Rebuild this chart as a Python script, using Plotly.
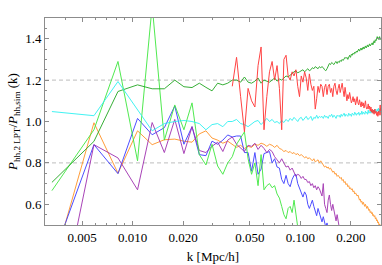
import math
import plotly.graph_objects as go

# k grid (mode-averaged first bins, then linear bins of width KF)
K_FIRST = [0.00331, 0.00589, 0.00819, 0.01071]
KF = 0.00238
K = K_FIRST + [round((n + 0.5) * KF, 5) for n in range(5, 127)]

CYAN = [1.048, 1.028, 1.193, 1.06, 0.955, 0.99, 1.0, 1.005, 1.0, 0.99, 0.96, 0.985, 0.99, 0.975, 1.0,
        1.00, 1.01, 0.99, 0.985, 0.975, 0.99, 1.00, 1.005, 0.985, 1.00, 1.015, 1.00, 1.01, 0.995, 1.00,
        0.99, 1.005, 0.995, 1.01, 1.00, 1.015, 1.005, 1.02, 1.01, 1.00,
        1.015, 1.02, 1.005, 1.015, 1.025, 1.01, 1.015, 1.025, 1.005, 1.02, 1.015, 1.03, 1.015, 1.025, 1.02,
        1.025, 1.015, 1.03, 1.02, 1.025, 1.015, 1.03, 1.025, 1.035, 1.02, 1.03, 1.025, 1.015, 1.03, 1.025,
        1.03, 1.02, 1.035, 1.025, 1.03, 1.04, 1.025, 1.035, 1.03, 1.025, 1.04, 1.03, 1.035, 1.025, 1.04,
        1.035, 1.03, 1.045, 1.035, 1.03,
        1.04, 1.035, 1.045, 1.03, 1.04, 1.035, 1.05, 1.035, 1.045, 1.04, 1.035, 1.05, 1.04, 1.045, 1.035,
        1.055, 1.04, 1.045, 1.05, 1.04,
        1.055, 1.045, 1.05, 1.04, 1.055, 1.045, 1.06, 1.05, 1.045, 1.06, 1.05, 1.065, 1.045, 1.06, 1.055, 1.065]

DARK_GREEN = [0.706, 0.904, 1.145, 1.177, 1.158, 1.158, 1.20, 1.168, 1.164, 1.185, 1.165, 1.148, 1.185, 1.177,
              1.185, 1.20,
              1.20, 1.19, 1.215, 1.19, 1.185, 1.195, 1.21, 1.185, 1.20, 1.195, 1.19, 1.20, 1.21, 1.195, 1.205,
              1.20, 1.21, 1.22, 1.215, 1.225, 1.23, 1.24, 1.245, 1.235,
              1.24, 1.245, 1.25, 1.24, 1.25, 1.255, 1.245, 1.25, 1.26, 1.255, 1.265, 1.26, 1.255, 1.265, 1.26,
              1.265, 1.26, 1.25, 1.245, 1.255, 1.27, 1.28, 1.275, 1.285, 1.28, 1.275, 1.285, 1.29, 1.28, 1.29,
              1.285, 1.295, 1.29, 1.30, 1.295, 1.30, 1.31, 1.305, 1.31, 1.30, 1.315, 1.32, 1.31, 1.325, 1.32,
              1.33, 1.325, 1.335, 1.33, 1.34,
              1.335, 1.34, 1.35, 1.34, 1.345, 1.355, 1.345, 1.35, 1.36, 1.35, 1.355, 1.365, 1.355, 1.36, 1.37,
              1.36, 1.365, 1.375, 1.365, 1.37,
              1.375, 1.38, 1.37, 1.385, 1.39, 1.38, 1.395, 1.39, 1.40, 1.41, 1.40, 1.405, 1.395, 1.41, 1.40, 1.395]

ORANGE = [0.28, 0.994, 0.75, 0.955, 0.888, 0.912, 0.915, 0.905, 0.90, 0.94, 0.955, 0.92, 0.91, 0.895, 0.905,
          0.89, 0.875, 0.885, 0.87, 0.88, 0.875, 0.89, 0.885, 0.895, 0.89, 0.88, 0.89, 0.885, 0.875, 0.885,
          0.87, 0.865, 0.855, 0.86, 0.85, 0.855, 0.845, 0.85, 0.84, 0.845,
          0.835, 0.84, 0.83, 0.825, 0.83, 0.82, 0.825, 0.815, 0.81, 0.82, 0.805, 0.81, 0.815, 0.80, 0.81,
          0.80, 0.79, 0.78, 0.785, 0.775, 0.78, 0.77, 0.775, 0.765, 0.755, 0.76, 0.745, 0.75, 0.735, 0.74,
          0.73, 0.725, 0.73, 0.715, 0.72, 0.705, 0.71, 0.695, 0.70, 0.685, 0.69, 0.675, 0.68, 0.67, 0.675,
          0.66, 0.665, 0.65, 0.655, 0.645,
          0.64, 0.645, 0.63, 0.62, 0.625, 0.61, 0.615, 0.60, 0.61, 0.595, 0.59, 0.60, 0.585, 0.58, 0.59,
          0.575, 0.57, 0.575, 0.56, 0.565,
          0.555, 0.56, 0.545, 0.55, 0.54, 0.545, 0.53, 0.535, 0.52, 0.525, 0.51, 0.515, 0.50, 0.505, 0.495, 0.49]

BLUE = [0.33, 0.888, 0.748, 1.015, 0.936, 0.97, 1.075, 0.89, 0.975, 0.84, 0.835, 0.905, 0.89, 0.91, 0.935,
        0.925, 0.93, 0.93, 0.85, 0.85, 0.76, 0.85, 0.745, 0.77, 0.845, 0.85, 0.855, 0.80, 0.82, 0.78,
        0.775, 0.72, 0.70, 0.74, 0.70, 0.685, 0.72, 0.74, 0.745, 0.70,
        0.68, 0.66, 0.635, 0.66, 0.645, 0.60, 0.58, 0.60, 0.62, 0.59, 0.565, 0.545, 0.58, 0.56, 0.53,
        0.515, 0.54, 0.52, 0.49, 0.51, 0.48, 0.46]

PURPLE = [-0.1, 0.888, 0.824, 0.67, 0.995, 0.85, 1.01, 0.845, 0.975, 0.86, 0.85, 0.88, 0.90, 0.855, 0.91,
          0.925, 0.89, 0.87, 0.855, 0.885, 0.88, 0.895, 0.865, 0.885, 0.87, 0.85, 0.865, 0.855, 0.83, 0.815,
          0.80, 0.82, 0.80, 0.78, 0.785, 0.765, 0.775, 0.75, 0.735, 0.745,
          0.74, 0.725, 0.735, 0.72, 0.72, 0.705, 0.71, 0.69, 0.70, 0.68, 0.69, 0.67, 0.685, 0.675, 0.66,
          0.64, 0.70, 0.60, 0.58, 0.56, 0.62, 0.645, 0.60, 0.57, 0.60, 0.565, 0.54, 0.52, 0.55, 0.51,
          0.49, 0.47]

LIGHT_GREEN = [0.666, 0.96, 1.29, 0.81, 1.56, 0.91, 1.08, 0.96, 1.09, 0.84, 0.79, 0.89, 0.785, 0.745, 0.80,
               0.83, 0.89, 0.92, 0.95, 0.82, 0.745, 0.80, 0.69, 0.84, 0.67, 0.69, 0.70, 0.68, 0.69, 0.65,
               0.63, 0.59, 0.55, 0.53, 0.58, 0.59, 0.56, 0.62, 0.55, 0.49, 0.47]

RED_START = 15  # first red point is the 16th k bin
RED = [1.17, 1.31, 1.12, 0.95, 1.16, 1.10, 1.07, 1.27, 1.36, 0.96, 1.12, 1.24, 1.29, 1.20, 1.27,
       1.16, 0.96, 1.30, 1.32, 1.22, 1.20, 1.24, 1.22, 1.25, 1.17,
       1.12, 1.22, 1.19, 1.24, 1.21, 1.15, 1.23, 1.18, 1.15, 1.17, 1.06, 1.11, 1.17, 1.14, 1.18,
       1.17, 1.12, 1.165, 1.18, 1.13, 1.17, 1.18, 1.14, 1.16, 1.12, 1.17, 1.185, 1.15, 1.13, 1.16,
       1.18, 1.14, 1.17, 1.185, 1.15, 1.12, 1.165, 1.14, 1.10, 1.13, 1.11, 1.14, 1.12, 1.09, 1.10,
       1.12, 1.095, 1.11, 1.08, 1.10,
       1.12, 1.09, 1.08, 1.105, 1.08, 1.07, 1.095, 1.075, 1.09, 1.065, 1.08, 1.10, 1.07, 1.06, 1.065,
       1.085, 1.06, 1.075, 1.05, 1.07,
       1.045, 1.06, 1.04, 1.055, 1.035, 1.06, 1.04, 1.05, 1.03, 1.045, 1.025, 1.05, 1.03, 1.04, 1.08, 1.03]

X_TICKS = [0.005, 0.01, 0.02, 0.05, 0.1, 0.2]
X_TICK_TEXT = ["0.005", "0.010", "0.020", "0.050", "0.100", "0.200"]
X_MINOR = [0.003, 0.004, 0.006, 0.007, 0.008, 0.009, 0.03, 0.04, 0.06, 0.07, 0.08, 0.09, 0.3]
Y_TICKS = [0.6, 0.8, 1.0, 1.2, 1.4]
Y_TICK_TEXT = ["0.6", "0.8", "1.0", "1.2", "1.4"]
Y_MINOR = [0.55, 0.65, 0.7, 0.75, 0.85, 0.9, 0.95, 1.05, 1.1, 1.15, 1.25, 1.3, 1.35, 1.45]

SERIES = [
    (ORANGE, 0, "#ff9326"),
    (BLUE, 0, "#3b3bff"),
    (PURPLE, 0, "#a030b0"),
    (LIGHT_GREEN, 0, "#3ee83e"),
    (DARK_GREEN, 0, "#22a722"),
    (CYAN, 0, "#2ef2f2"),
    (RED, RED_START, "#ff3030"),
]

fig = go.Figure()
for vals, start, color in SERIES:
    fig.add_trace(go.Scatter(
        x=K[start:start + len(vals)], y=vals, mode="lines",
        line=dict(color=color, width=1), opacity=0.9,
        showlegend=False, hoverinfo="skip"))

for yv in (0.8, 1.2):
    fig.add_shape(type="line", xref="paper", x0=0, x1=1, yref="y", y0=yv, y1=yv,
                  line=dict(color="#bdbdbd", width=1, dash="4px,3px"), layer="below")

FONT = "Liberation Serif"
frame = "#8c8c8c"
fig.update_layout(
    width=382, height=265,
    margin=dict(l=45, r=1, t=18, b=40),
    plot_bgcolor="white", paper_bgcolor="white",
    font=dict(family=FONT, size=13, color="black"),
)
fig.update_xaxes(
    type="log", range=[math.log10(0.00301), math.log10(0.302)],
    tickvals=X_TICKS, ticktext=X_TICK_TEXT,
    ticks="inside", ticklen=4, tickcolor=frame, tickwidth=1,
    showline=True, linecolor=frame, linewidth=1, mirror="ticks",
    showgrid=False, zeroline=False,
    minor=dict(tickvals=X_MINOR, ticks="inside", ticklen=2, tickcolor=frame, showgrid=False),
    tickfont=dict(family=FONT, size=13, color="black"),
    title=dict(text="k [Mpc/h]", font=dict(family=FONT, size=13, color="black"), standoff=8),
)
fig.update_yaxes(
    range=[0.5, 1.5],
    tickvals=Y_TICKS, ticktext=Y_TICK_TEXT,
    ticks="inside", ticklen=4, tickcolor=frame, tickwidth=1,
    showline=True, linecolor=frame, linewidth=1, mirror="ticks",
    showgrid=False, zeroline=False,
    minor=dict(tickvals=Y_MINOR, ticks="inside", ticklen=2, tickcolor=frame, showgrid=False),
    tickfont=dict(family=FONT, size=13, color="black"),
    title=dict(text="<i>P</i><sub>hh,2 LPT</sub>/<i>P</i><sub>hh,sim</sub> (k)",
               font=dict(family=FONT, size=13, color="black"), standoff=4),
)

fig.write_html("out.html", config={"displayModeBar": False},
               post_script="document.body.style.margin='0';document.body.style.overflow='hidden';")
